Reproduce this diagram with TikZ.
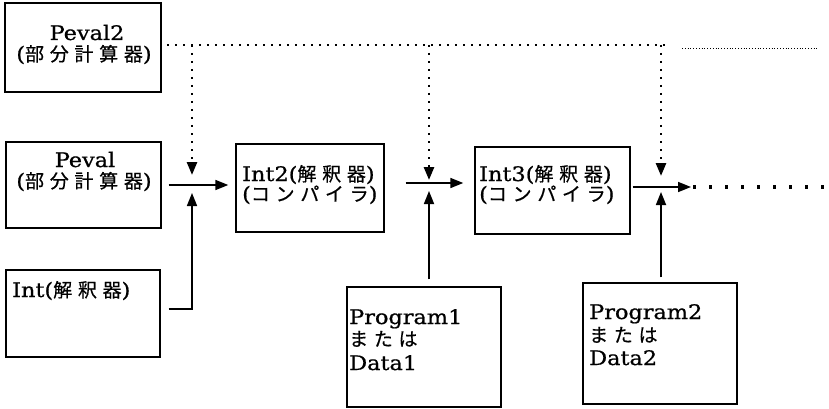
\documentclass[tikz,border=0pt]{standalone}
\usepackage{fontspec}
\setmainfont{DejaVu Serif}[FakeStretch=1.12,FakeBold=0.8]
\newfontfamily\jpfont{Noto Sans CJK JP}[LetterSpace=30,FakeBold=0.6]
\newcommand\jtxt[1]{{\fontsize{19}{19}\selectfont\jpfont #1}}
\usetikzlibrary{arrows.meta}
\begin{document}
\begin{tikzpicture}[x=1pt,y=-1pt,
  box/.style={draw, line width=1.4pt, inner sep=0pt},
  lbl/.style={inner sep=0pt, text height=14pt, text depth=1.5pt, font=\fontsize{20}{20}\selectfont},
  arr/.style={line width=1.7pt, -{Triangle[length=13pt,width=10pt]}},
  dots/.style={line width=2.6pt, dash pattern=on 2.4pt off 5.6pt},
  dotarr/.style={dots, -{Triangle[length=13pt,width=10pt]}},
  fine/.style={line width=0.9pt, dash pattern=on 1pt off 1.8pt},
  bigdots/.style={line width=3.4pt, dash pattern=on 3.4pt off 12.6pt}]
\useasboundingbox (0,0) rectangle (829,409);

% boxes
\node[box, minimum width=156pt, minimum height=89pt] (peval2) at (83,47.5) {};
\node[box, minimum width=155pt, minimum height=86pt] (peval) at (83.5,185) {};
\node[box, minimum width=154pt, minimum height=87pt] (int) at (83,313.5) {};
\node[box, minimum width=148pt, minimum height=88pt] (int2) at (310,188) {};
\node[box, minimum width=155pt, minimum height=87pt] (int3) at (552.5,190.5) {};
\node[box, minimum width=154pt, minimum height=120pt] (prog1) at (424,347) {};
\node[box, minimum width=154pt, minimum height=121pt] (prog2) at (660,343.5) {};

% texts
\node[lbl, anchor=base] (peval2a) at (87,40) {Peval2};
\node[lbl, anchor=base] (peval2b) at (84,61) {(\jtxt{部分計算器})};
\node[lbl, anchor=base] (pevala) at (85,167) {Peval};
\node[lbl, anchor=base] (pevalb) at (84,188) {(\jtxt{部分計算器})};
\node[lbl, anchor=base west] (inta) at (12,297) {Int(\jtxt{解釈器})};
\node[lbl, anchor=base west] (int2a) at (242,181) {Int2(\jtxt{解釈器})};
\node[lbl, anchor=base west] (int2b) at (242,201) {(\jtxt{コンパイラ})};
\node[lbl, anchor=base west] (int3a) at (479,181) {Int3(\jtxt{解釈器})};
\node[lbl, anchor=base west] (int3b) at (479,201) {(\jtxt{コンパイラ})};
\node[lbl, anchor=base west] (prog1a) at (349,324) {Program1};
\node[lbl, anchor=base west] (prog1b) at (349,346) {\jtxt{または}};
\node[lbl, anchor=base west] (prog1c) at (349,370) {Data1};
\node[lbl, anchor=base west] (prog2a) at (589,319) {Program2};
\node[lbl, anchor=base west] (prog2b) at (589,342) {\jtxt{または}};
\node[lbl, anchor=base west] (prog2c) at (589,365) {Data2};

% junctions
\coordinate (j1) at (192,185);
\coordinate (j2) at (429,183);
\coordinate (j3) at (661,187);
\coordinate (d0) at (167,45);
\coordinate (d3) at (665,45);
\coordinate (e3) at (691,187);
\coordinate (e4) at (829,187);
\coordinate (f0) at (682,48);
\coordinate (f1) at (818,48);

% dotted feed from Peval2
\draw[dots] (d0) -- (d3);
\draw[dotarr] (j1 |- d0) -- ([yshift=10pt]j1);
\draw[dotarr] (j2 |- d0) -- ([yshift=3pt]j2);
\draw[dotarr] (j3 |- d0) -- ([yshift=11pt]j3);
\draw[fine] (f0) -- (f1);

% stage 1
\draw[arr] ([xshift=7pt]peval.east) -- ([xshift=-7pt]int2.west |- j1);
\draw[arr] ([xshift=8pt,yshift=4.5pt]int.east) -| ([yshift=-8pt]j1);

% stage 2
\draw[arr] ([xshift=21pt]int2.east |- j2) -- ([xshift=-11pt]int3.west |- j2);
\draw[arr] ([yshift=7pt]j2 |- prog1.north) -- ([yshift=-8pt]j2);

% stage 3
\draw[arr] ([xshift=2pt]int3.east |- j3) -- (e3);
\draw[arr] ([yshift=5pt]j3 |- prog2.north) -- ([yshift=-5pt]j3);
\draw[bigdots] ([xshift=2pt]e3) -- (e4);
\end{tikzpicture}
\end{document}
